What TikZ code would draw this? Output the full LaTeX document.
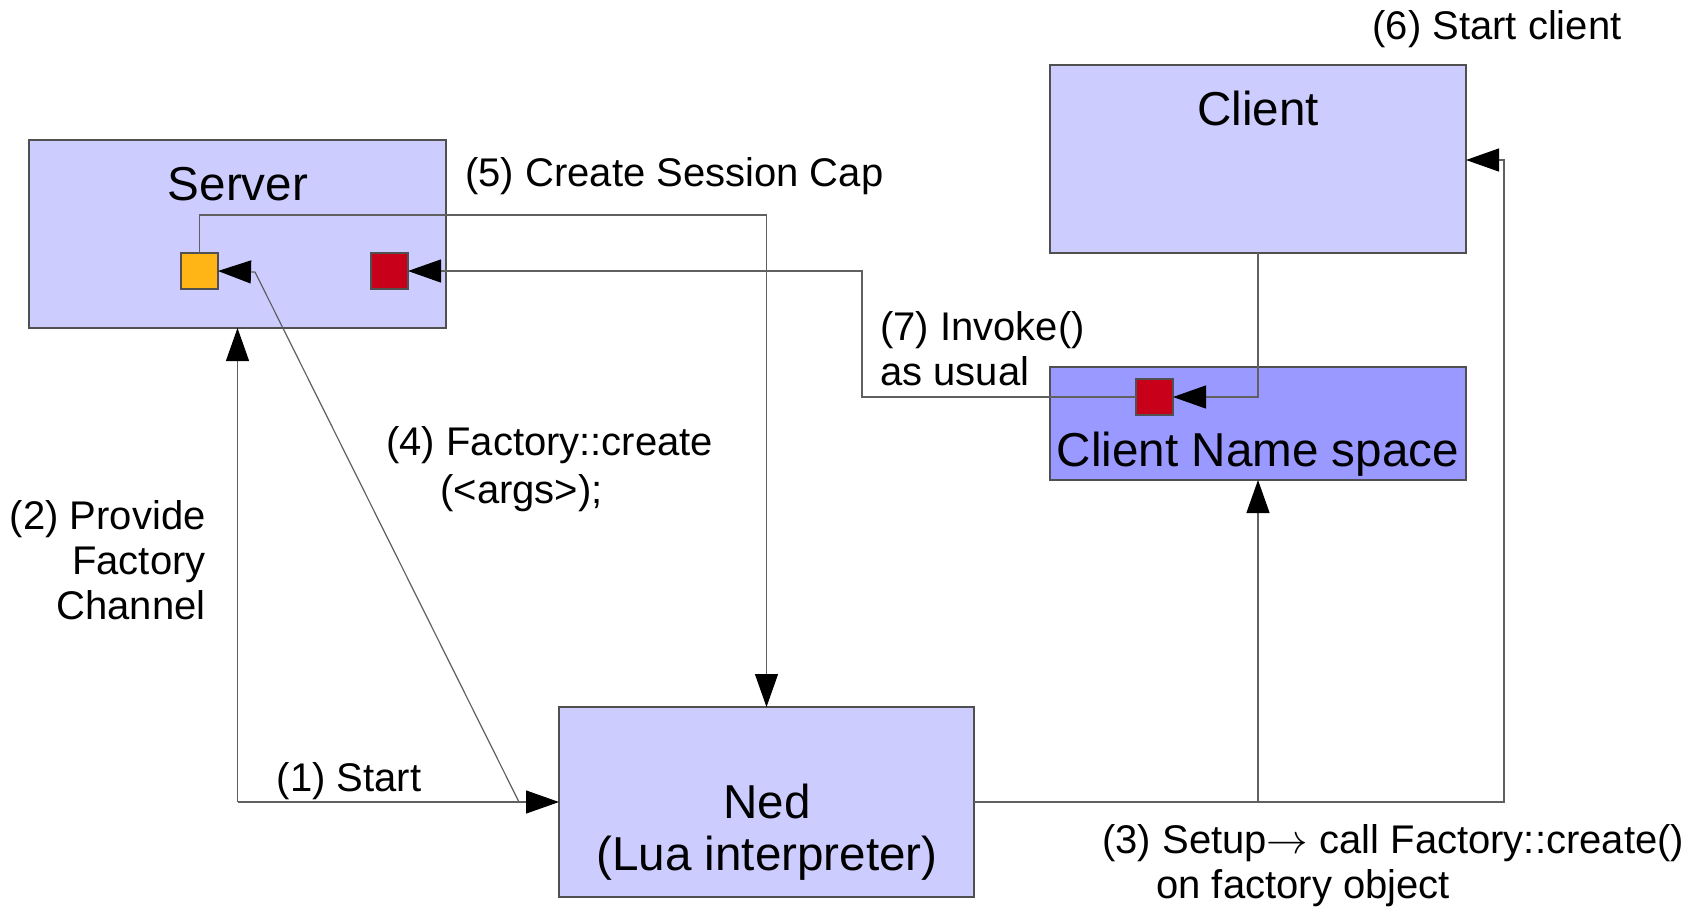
\documentclass[tikz,border=0pt]{standalone}
\usepackage{fontspec}
\setmainfont{Liberation Sans}
\usetikzlibrary{arrows.meta}
\definecolor{boxfill}{HTML}{CCCCFF}
\definecolor{nsfill}{HTML}{9999FF}
\definecolor{capyellow}{HTML}{FFB515}
\definecolor{capred}{HTML}{C8001A}
\definecolor{edge}{HTML}{505050}
\definecolor{wire}{HTML}{606060}
\begin{document}
\begin{tikzpicture}[x=0.5pt,y=-0.5pt,
  box/.style={draw=edge,line width=0.6pt,anchor=north west,inner sep=0pt,outer sep=0pt},
  capbox/.style={draw=edge,line width=0.6pt,anchor=north west,inner sep=0pt,outer sep=0pt,
    minimum width=18.5pt,minimum height=18pt},
  big/.style={font=\fontsize{23.8}{26}\selectfont,inner sep=0pt},
  small/.style={font=\fontsize{20}{22.5}\selectfont,inner sep=0pt},
  conn/.style={draw=wire,line width=0.6pt},
  tip/.style={-{Triangle[length=16.5pt,width=11.5pt,black]},draw=wire,line width=0.6pt}]
\useasboundingbox (0,0) rectangle (1704,907);

% boxes
\node[box,fill=boxfill,minimum width=208.5pt,minimum height=94pt] (server) at (29,140) {};
\node[box,fill=boxfill,minimum width=208pt,minimum height=94pt] (client) at (1050,65) {};
\node[box,fill=nsfill,minimum width=208pt,minimum height=56.5pt] (ns) at (1050,367) {};
\node[box,fill=boxfill,minimum width=207.5pt,minimum height=95pt] (ned) at (559,707) {};

% capabilities
\node[capbox,fill=capyellow] (fcap) at (181,253) {};
\node[capbox,fill=capred] (scap) at (371,253) {};
\node[capbox,fill=capred] (ccap) at (1136,379) {};

% box titles
\node[big] (serverlabel) at (238,184) {Server};
\node[big] (clientlabel) at (1258,108) {Client};
\node[big] (nslabel) at (1258,454) {Client Name space};
\node[big,align=center] (nedlabel) at (767,832) {Ned\\(Lua interpreter)};

% connector corners
\coordinate (startcorner) at (server.south |- ned.west);
\coordinate (diagtop) at (255,272);
\coordinate (diagbottom) at (519,802);
\coordinate (sessA) at (fcap.north |- 0,215);
\coordinate (sessB) at (ned.north |- 0,215);
\coordinate (invA) at (client.south |- ccap.east);
\coordinate (invB) at (862,0 |- ccap.west);
\coordinate (invC) at (862,0 |- scap.east);
\coordinate (setupA) at (ns.south |- ned.east);
\coordinate (setupB) at (1504,0 |- ned.east);
\coordinate (setupC) at (1504,160);
\coordinate (setupD) at (client.east |- setupC);

% (1) and (2)
\draw[tip] (startcorner) -- (server.south);
\draw[tip] (startcorner) -- (ned.west);
% (4)
\draw[conn] (diagbottom) -- (diagtop);
\draw[tip] (diagtop) -- (fcap.east);
% (5)
\draw[tip] (fcap.north) -- (sessA) -- (sessB) -- (ned.north);
% (3)
\draw[tip] (ned.east) -- (setupA) -- (ns.south);
% (6)
\draw[tip] (setupA) -- (setupB) -- (setupC) -- (setupD);
% (7)
\draw[tip] (client.south) -- (invA) -- (ccap.east);
\draw[tip] (ccap.west) -- (invB) -- (invC) -- (scap.east);

% labels
\node[small] (l6) at (1497,29) {(6) Start client};
\node[small,anchor=west] (l5) at (465,176) {(5) Create Session Cap};
\node[small,anchor=west,align=left] (l7) at (880,349) {(7) Invoke()\\as usual};
\node[small,anchor=west] (l4a) at (386,445) {(4) Factory::create};
\node[small,anchor=west] (l4b) at (440,493) {(<args>);};
\node[small,anchor=east,align=right] (l2) at (206,560) {(2) Provide\\Factory\\Channel};
\node[small] (l1) at (349,781) {(1) Start};
\node[small,anchor=west] (l3a) at (1102,843) {(3) Setup\(\rightarrow\) call Factory::create()};
\node[small,anchor=west] (l3b) at (1156,888) {on factory object};
\end{tikzpicture}
\end{document}
